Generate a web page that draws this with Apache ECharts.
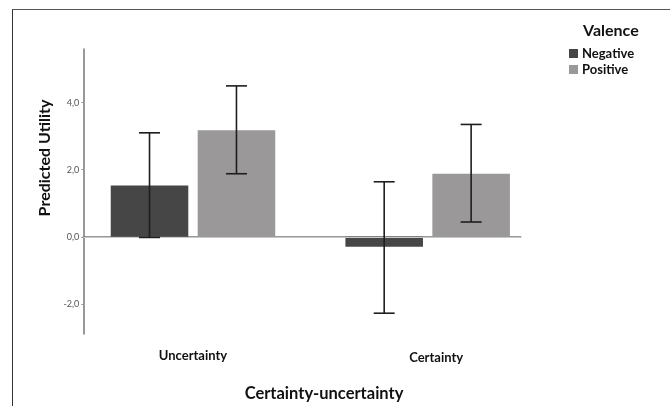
<!DOCTYPE html>
<html>
<head>
<meta charset="utf-8">
<script src="https://cdn.jsdelivr.net/npm/echarts@6/dist/echarts.min.js"></script>
<style>
html,body{margin:0;padding:0;background:#fff;}
#frame{position:absolute;left:12px;top:9px;width:660px;height:400px;border-left:1.5px solid #333;border-top:1.5px solid #555;box-sizing:border-box;}
#chart{position:absolute;left:0;top:0;width:670px;height:406px;}
</style>
</head>
<body>
<div id="frame"></div>
<div id="chart"></div>
<script>
const categories = ['Uncertainty', 'Certainty'];
const seriesNames = ['Negative', 'Positive'];
const negativeValues = [1.53, -0.30];
const positiveValues = [3.18, 1.88];
const negativeLow = [-0.02, -2.28];
const negativeHigh = [3.10, 1.64];
const positiveLow = [1.88, 0.44];
const positiveHigh = [4.50, 3.35];
const yTickValues = [-2, 0, 2, 4];
const yMin = -2.9, yMax = 5.6;

const CAT_GAP = 0.299, BAR_GAP = 0.121;
const FONT = 'Lato, "Open Sans", sans-serif';

function errRender(sign) {
  return function (params, api) {
    const i = api.value(0);
    const lo = api.coord([i, api.value(1)]);
    const hi = api.coord([i, api.value(2)]);
    const band = api.size([1, 0])[0];
    const bw = band * (1 - CAT_GAP) / (2 + BAR_GAP);
    const x = lo[0] + sign * bw * (1 + BAR_GAP) / 2;
    const cap = 10.5;
    const st = {stroke: '#1e1e1e', lineWidth: 1.6};
    return {type: 'group', children: [
      {type: 'line', shape: {x1: x, y1: lo[1], x2: x, y2: hi[1]}, style: st},
      {type: 'line', shape: {x1: x - cap, y1: hi[1], x2: x + cap, y2: hi[1]}, style: st},
      {type: 'line', shape: {x1: x - cap, y1: lo[1], x2: x + cap, y2: lo[1]}, style: st}
    ]};
  };
}

const chart = echarts.init(document.getElementById('chart'), null, {renderer: 'canvas'});
chart.setOption({
  animation: false,
  backgroundColor: 'transparent',
  title: [
    {text: 'Valence', left: 583, top: 23, padding: 0, textStyle: {fontFamily: FONT, fontWeight: 'bold', fontSize: 16, color: '#111'}},
    {text: 'Certainty-uncertainty', left: 324, top: 385, padding: 0, textAlign: 'center', textStyle: {fontFamily: FONT, fontWeight: 'bold', fontSize: 16.5, color: '#111'}}
  ],
  legend: {
    data: seriesNames,
    orient: 'vertical',
    left: 569, top: 47, padding: 0,
    itemWidth: 9, itemHeight: 9, itemGap: 3,
    icon: 'rect',
    textStyle: {fontFamily: FONT, fontWeight: 'bold', fontSize: 13, color: '#111', padding: [0, 0, 0, -1]}
  },
  grid: [
    {left: 75.65, right: 125, top: 49, bottom: 72},
    {left: 83.3, right: 149.3, top: 49, bottom: 72}
  ],
  xAxis: [
    {type: 'category', gridIndex: 0, data: categories,
     axisLine: {show: false}, axisTick: {show: false},
     axisLabel: {margin: 15, fontFamily: FONT, fontWeight: 'bold', fontSize: 13, color: '#111',
       formatter: function (v) { return v === 'Certainty' ? '{r|' + v + '}' : v; },
       rich: {r: {fontFamily: FONT, fontWeight: 'bold', fontSize: 13, color: '#111', padding: [2, 0, 0, 17]}}}},
    {type: 'value', gridIndex: 1, min: 0, max: 1,
     axisLine: {show: true, lineStyle: {color: '#777', width: 1.5}},
     axisTick: {show: false}, axisLabel: {show: false}, splitLine: {show: false}}
  ],
  yAxis: [
    {type: 'value', gridIndex: 0, min: yMin, max: yMax, show: false},
    {type: 'value', gridIndex: 1, min: yMin, max: yMax,
     axisLine: {show: true, lineStyle: {color: '#777', width: 1.5}},
     axisTick: {show: true, length: 2, customValues: yTickValues, lineStyle: {color: '#999'}},
     axisLabel: {customValues: yTickValues, margin: 4, fontFamily: FONT, fontSize: 9, color: '#555',
       formatter: function (v) { return v.toFixed(1).replace('.', ','); }},
     splitLine: {show: false}}
  ],
  series: [
    {type: 'line', xAxisIndex: 1, yAxisIndex: 1, data: [], silent: true, z: 1,
     markLine: {silent: true, symbol: 'none', label: {show: false},
       lineStyle: {color: '#c8c8c8', width: 1, type: 'solid'}, data: [{yAxis: 0}]}},
    {name: 'Negative', type: 'bar', xAxisIndex: 0, yAxisIndex: 0, data: negativeValues,
     itemStyle: {color: '#464646'}, barCategoryGap: (CAT_GAP * 100) + '%', barGap: (BAR_GAP * 100) + '%', z: 2},
    {name: 'Positive', type: 'bar', xAxisIndex: 0, yAxisIndex: 0, data: positiveValues,
     itemStyle: {color: '#9a9898'}, barCategoryGap: (CAT_GAP * 100) + '%', barGap: (BAR_GAP * 100) + '%', z: 2},
    {type: 'custom', xAxisIndex: 0, yAxisIndex: 0, renderItem: errRender(-1), z: 5, silent: true,
     data: categories.map((c, i) => [i, negativeLow[i], negativeHigh[i]]), encode: {x: 0, y: [1, 2]}},
    {type: 'custom', xAxisIndex: 0, yAxisIndex: 0, renderItem: errRender(1), z: 5, silent: true,
     data: categories.map((c, i) => [i, positiveLow[i], positiveHigh[i]]), encode: {x: 0, y: [1, 2]}}
  ],
  graphic: [
    {type: 'text', x: 45, y: 158, rotation: Math.PI / 2,
     style: {text: 'Predicted Utility', fontFamily: FONT, fontWeight: 'bold', fontSize: 16, fill: '#111',
       textAlign: 'center', textVerticalAlign: 'middle'}}
  ]
});
</script>
</body>
</html>
